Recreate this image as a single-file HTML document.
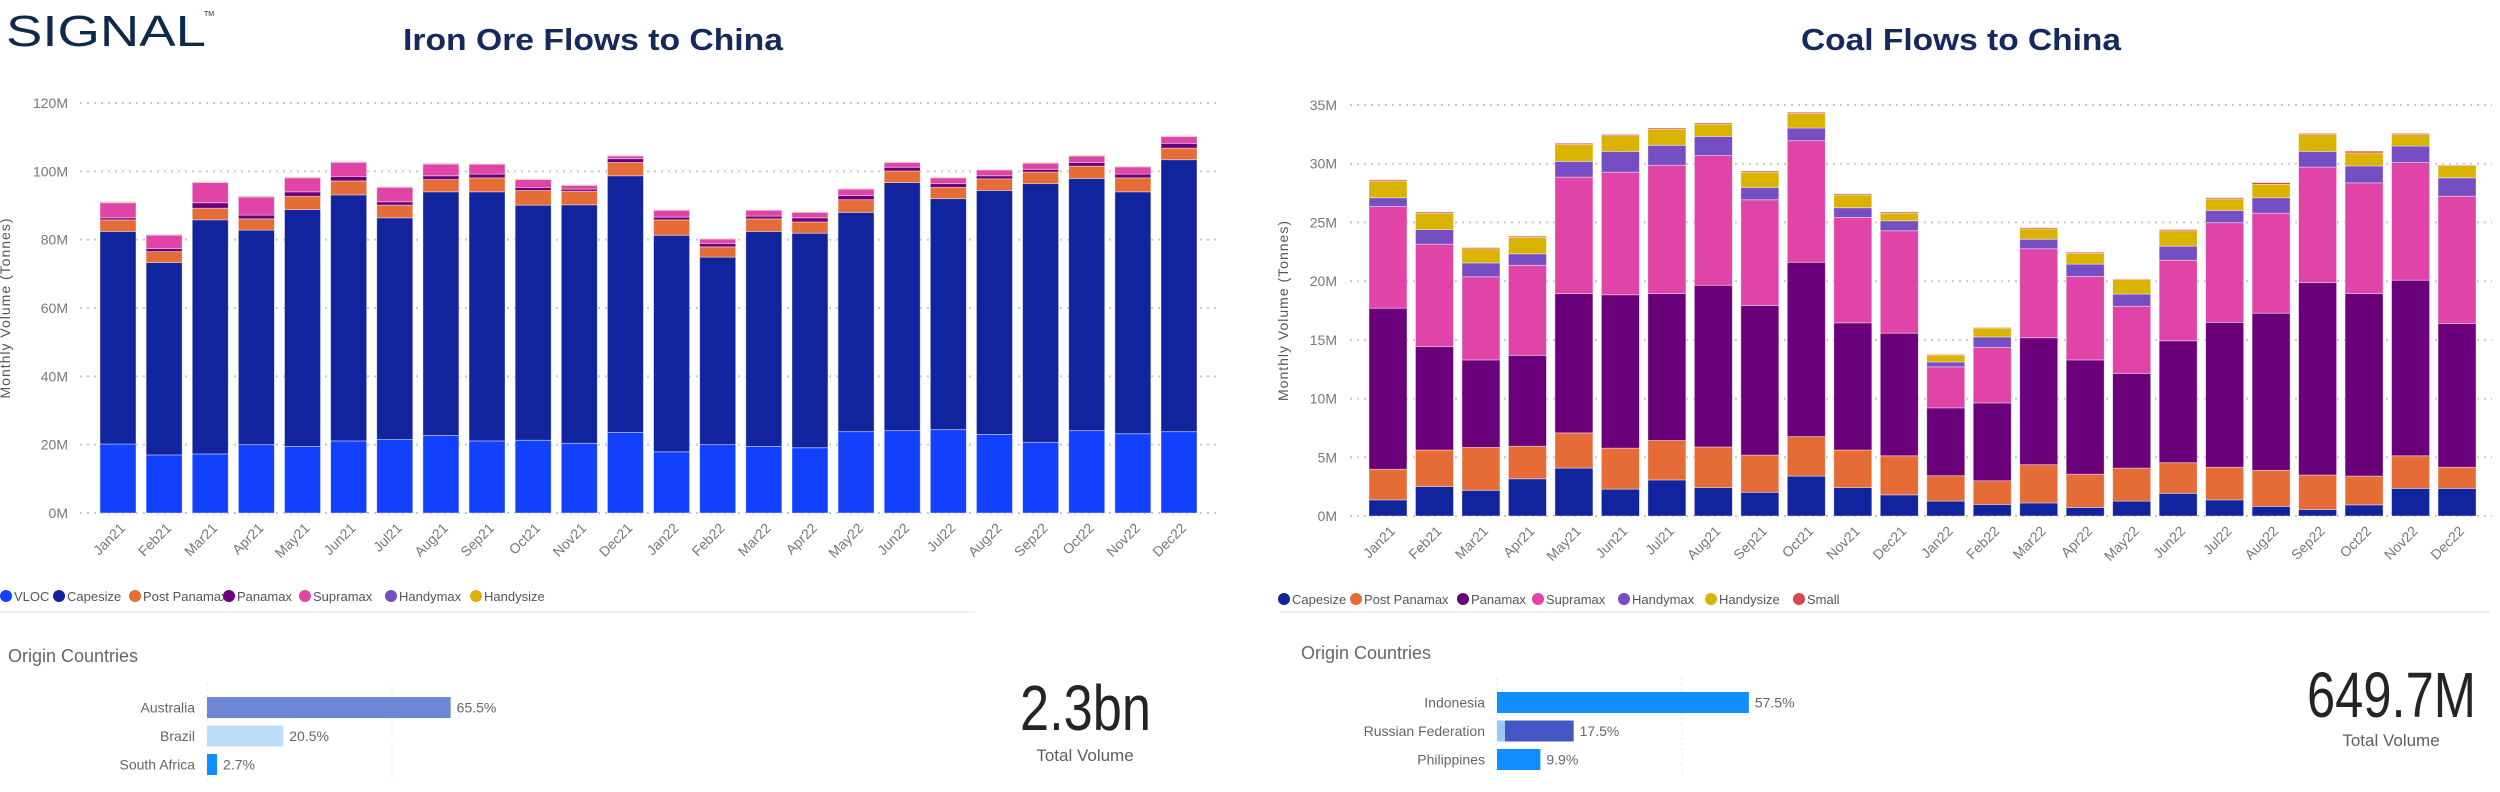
<!DOCTYPE html>
<html><head><meta charset="utf-8"><style>
body{margin:0;background:#fff;width:2500px;height:792px;overflow:hidden;font-family:"Liberation Sans",sans-serif}
svg{position:absolute;left:0;top:0}
</style></head><body>
<svg id="s" width="2500" height="792" xmlns="http://www.w3.org/2000/svg">
<g>
<text x="6" y="46" font-family="Liberation Sans, sans-serif" font-size="44" fill="#0d2a4a" textLength="200" lengthAdjust="spacingAndGlyphs">SIGNAL</text>
<text x="204" y="16" font-size="7" fill="#0d2a4a">TM</text>
</g>
<text x="403" y="50" font-size="31" font-weight="bold" fill="#142a5c" textLength="380" lengthAdjust="spacingAndGlyphs">Iron Ore Flows to China</text>
<text x="1801" y="50" font-size="31" font-weight="bold" fill="#142a5c" textLength="320" lengthAdjust="spacingAndGlyphs">Coal Flows to China</text>
<g id="c1"></g>
<g id="c2"></g>
<line x1="0" y1="612" x2="975" y2="612" stroke="#f0f0f0" stroke-width="2"/>
<line x1="1280" y1="612" x2="2490" y2="612" stroke="#f0f0f0" stroke-width="2"/>
<g id="b1"></g>
<g id="b2"></g>
<g>
<text x="1020" y="730" font-size="64" fill="#252423" textLength="131" lengthAdjust="spacingAndGlyphs">2.3bn</text>
<text x="1085" y="761" font-size="17" fill="#605e5c" text-anchor="middle">Total Volume</text>
</g>
<g>
<text x="2307" y="717" font-size="64" fill="#252423" textLength="169" lengthAdjust="spacingAndGlyphs">649.7M</text>
<text x="2391" y="746" font-size="17" fill="#605e5c" text-anchor="middle">Total Volume</text>
</g>
</svg>
<script>
const months=["Jan21","Feb21","Mar21","Apr21","May21","Jun21","Jul21","Aug21","Sep21","Oct21","Nov21","Dec21","Jan22","Feb22","Mar22","Apr22","May22","Jun22","Jul22","Aug22","Sep22","Oct22","Nov22","Dec22"];
const ironSeries=["VLOC","Capesize","Post Panamax","Panamax","Supramax","Handymax","Handysize"];
const ironColors=["#1240ff","#12239e","#e66c37","#6b007b","#e044a7","#744ec2","#d9b300"];
const ironVLOC=[20.2,17.0,17.3,20.0,19.5,21.1,21.5,22.7,21.1,21.3,20.4,23.6,17.9,20.0,19.5,19.1,23.8,24.1,24.4,23.0,20.7,24.1,23.2,23.8];
const ironCape=[62.2,56.3,68.5,62.8,69.3,72.0,64.9,71.3,72.9,68.8,69.8,75.1,63.4,54.9,62.9,62.8,64.2,72.6,67.6,71.4,75.7,73.8,70.8,79.6];
const ironPP=[3.4,3.2,3.4,3.3,3.9,4.1,3.7,3.6,4.1,4.3,4.0,3.9,4.5,3.0,3.7,3.3,3.7,3.4,3.3,3.4,3.4,3.6,4.1,3.4];
const ironPmax=[0.6,0.9,1.6,1.1,1.3,1.3,1.0,1.1,1.1,0.9,0.6,1.1,0.8,1.0,0.8,1.2,1.2,1.1,1.1,0.9,0.8,1.1,1.1,1.4];
const ironSupra=[4.4,3.9,5.9,5.3,4.1,4.1,4.2,3.4,2.9,2.3,1.1,0.8,2.0,1.3,1.7,1.6,1.9,1.4,1.7,1.7,1.8,1.9,2.1,2.0];
const ironHM=[0.2,0.2,0.2,0.2,0.2,0.2,0.2,0.2,0.1,0.1,0.1,0.1,0.1,0.1,0.1,0.1,0.1,0.1,0.1,0.1,0.1,0.1,0.1,0.1];
const ironHS=[0.2,0.1,0.1,0.1,0.1,0.1,0.1,0.1,0.1,0.1,0.1,0.1,0.1,0.1,0.1,0.1,0.1,0.1,0.1,0.1,0.1,0.1,0.1,0.1];
const ironTicks=["0M","20M","40M","60M","80M","100M","120M"];
const ironTickVals=[0,20,40,60,80,100,120];

const coalSeries=["Capesize","Post Panamax","Panamax","Supramax","Handymax","Handysize","Small"];
const coalColors=["#12239e","#e66c37","#6b007b","#e044a7","#744ec2","#d9b300","#d64550"];
const coalCape=[1.37,2.51,2.19,3.17,4.08,2.29,3.07,2.42,2.02,3.4,2.42,1.8,1.27,0.98,1.11,0.72,1.27,1.93,1.37,0.82,0.55,0.95,2.35,2.35];
const coalPP=[2.61,3.11,3.65,2.77,3.0,3.49,3.36,3.46,3.17,3.36,3.2,3.33,2.16,2.02,3.26,2.84,2.81,2.61,2.78,3.07,2.94,2.45,2.78,1.8];
const coalPmax=[13.72,8.81,7.45,7.74,11.86,13.06,12.51,13.77,12.73,14.85,10.83,10.44,5.78,6.63,10.81,9.73,8.06,10.38,12.34,13.38,16.39,15.54,14.95,12.24];
const coalSupra=[8.65,8.72,7.08,7.67,9.92,10.44,10.93,11.04,9.01,10.35,8.98,8.72,3.49,4.73,7.58,7.11,5.72,6.86,8.49,8.52,9.83,9.43,10.02,10.84];
const coalHM=[0.75,1.24,1.18,0.98,1.34,1.77,1.7,1.63,1.05,1.08,0.82,0.85,0.42,0.89,0.81,1.05,1.04,1.2,1.04,1.31,1.34,1.44,1.4,1.57];
const coalHS=[1.43,1.4,1.21,1.4,1.44,1.34,1.37,1.05,1.3,1.24,1.08,0.65,0.59,0.75,0.88,0.91,1.24,1.31,0.98,1.14,1.43,1.11,0.98,1.04];
const coalSmall=[0.1,0.1,0.1,0.1,0.1,0.1,0.1,0.1,0.1,0.1,0.1,0.1,0.05,0.05,0.1,0.1,0.05,0.1,0.1,0.15,0.1,0.15,0.1,0.05];
const coalTicks=["0M","5M","10M","15M","20M","25M","30M","35M"];
const coalTickVals=[0,5,10,15,20,25,30,35];

const ironCountries=["Australia","Brazil","South Africa"];
const ironShares=[65.5,20.5,2.7];
const ironShareColors=["#6b87d6","#bcdcf7","#118dff"];
const coalCountries=["Indonesia","Russian Federation","Philippines"];
const coalShares=[57.5,17.5,9.9];
const coalShareColors=["#118dff","#4457c4","#118dff"];

const NS="http://www.w3.org/2000/svg";
function mk(tag,attrs,parent){const e=document.createElementNS(NS,tag);for(const k in attrs)e.setAttribute(k,attrs[k]);parent.appendChild(e);return e;}

function chart(g,cfg){
  const yS=v=>cfg.y0-(v/cfg.max)*(cfg.y0-cfg.yTop);
  const xS=i=>cfg.x0+i*cfg.step;
  cfg.tickVals.forEach((v,i)=>{
    const l=mk("line",{x1:cfg.gx1,x2:cfg.gx2,y1:yS(v),y2:yS(v),stroke:"#c8c8c8","stroke-width":2,"stroke-dasharray":"2 5"},g);
    
    
    const t=mk("text",{x:cfg.lx,y:yS(v)+5,"text-anchor":"end","font-size":14,fill:"#777"},g);
    t.textContent=cfg.ticks[i];
    
    
  });
  const at=mk("text",{x:0,y:0,"font-size":14,fill:"#555","letter-spacing":"1","text-anchor":"middle",transform:`translate(${cfg.titleX},${(cfg.y0+cfg.yTop)/2}) rotate(-90)`},g);
  at.textContent="Monthly Volume (Tonnes)";
  
  
  months.forEach((m,i)=>{
    let acc=0;
    cfg.series.forEach((arr,s)=>{
      const v=arr[i];const yb=yS(acc);acc+=v;const yt=yS(acc);
      const r=mk("rect",{x:xS(i)-cfg.bw/2,y:yt,width:cfg.bw,height:Math.max(0,yb-yt),fill:cfg.colors[s],stroke:"#fff","stroke-opacity":0.5,"stroke-width":0.8},g);
      
      
    });
    const t=mk("text",{x:0,y:0,"text-anchor":"end","font-size":14,fill:"#777",transform:`translate(${xS(i)+8},${cfg.y0+16}) rotate(-45)`},g);
    t.textContent=m;
    
    
  });
  cfg.names.forEach((n,i)=>{
    const c=mk("circle",{cx:cfg.legX[i]+6,cy:cfg.legY,r:6,fill:cfg.colors[i]},g);
    
    
    const t=mk("text",{x:cfg.legX[i]+14,y:cfg.legY+5,"font-size":13,fill:"#555"},g);
    t.textContent=n;
    
    
  });
}
chart(document.getElementById("c1"),{x0:118,step:46.13,bw:36,y0:513,yTop:103,max:120,gx1:80,gx2:1218,lx:68,titleX:10,
  ticks:ironTicks,tickVals:ironTickVals,series:[ironVLOC,ironCape,ironPP,ironPmax,ironSupra,ironHM,ironHS],colors:ironColors,names:ironSeries,
  legX:[0,53,129,223,299,385,470],legY:596});
chart(document.getElementById("c2"),{x0:1388,step:46.48,bw:38,y0:516,yTop:105,max:35,gx1:1350,gx2:2492,lx:1337,titleX:1288,
  ticks:coalTicks,tickVals:coalTickVals,series:[coalCape,coalPP,coalPmax,coalSupra,coalHM,coalHS,coalSmall],colors:coalColors,names:coalSeries,
  legX:[1278,1350,1457,1532,1618,1705,1793],legY:599});

function barList(g,cfg){
  const t0=mk("text",{x:cfg.titleX,y:cfg.titleY,"font-size":18,fill:"#666"},g);
  t0.textContent="Origin Countries";
  
  
  [0,1].forEach(k=>{const l=mk("line",{x1:cfg.x0+k*cfg.gridStep,x2:cfg.x0+k*cfg.gridStep,y1:cfg.gy1,y2:cfg.gy2,stroke:"#e6e6e6","stroke-dasharray":"2 3"},g);
    });
  cfg.names.forEach((n,i)=>{
    const y=cfg.y0+i*cfg.rowStep;const w=cfg.vals[i]*cfg.scale;
    if(cfg.extra&&cfg.extra[i]){const e=mk("rect",{x:cfg.x0,y:y,width:cfg.extra[i],height:cfg.bh,fill:"#9ac8f5"},g);}
    const r=mk("rect",{x:cfg.x0+((cfg.extra&&cfg.extra[i])||0),y:y,width:w-((cfg.extra&&cfg.extra[i])||0),height:cfg.bh,fill:cfg.colors[i]},g);
    
    
    const l=mk("text",{x:cfg.x0-12,y:y+cfg.bh/2+5,"text-anchor":"end","font-size":14,fill:"#666"},g);
    l.textContent=n;
    const p=mk("text",{x:cfg.x0+w+6,y:y+cfg.bh/2+5,"font-size":14,fill:"#666"},g);
    p.textContent=cfg.vals[i]+"%";
  });
}
barList(document.getElementById("b1"),{titleX:8,titleY:662,x0:207,gridStep:185,gy1:684,gy2:782,y0:697,rowStep:28.5,bh:21,scale:3.72,names:ironCountries,vals:ironShares,colors:ironShareColors});
barList(document.getElementById("b2"),{titleX:1301,titleY:659,x0:1497,gridStep:185,gy1:678,gy2:778,y0:692,rowStep:28.5,bh:21,scale:4.38,names:coalCountries,vals:coalShares,colors:coalShareColors,extra:[0,8,0]});
</script>
</body></html>
